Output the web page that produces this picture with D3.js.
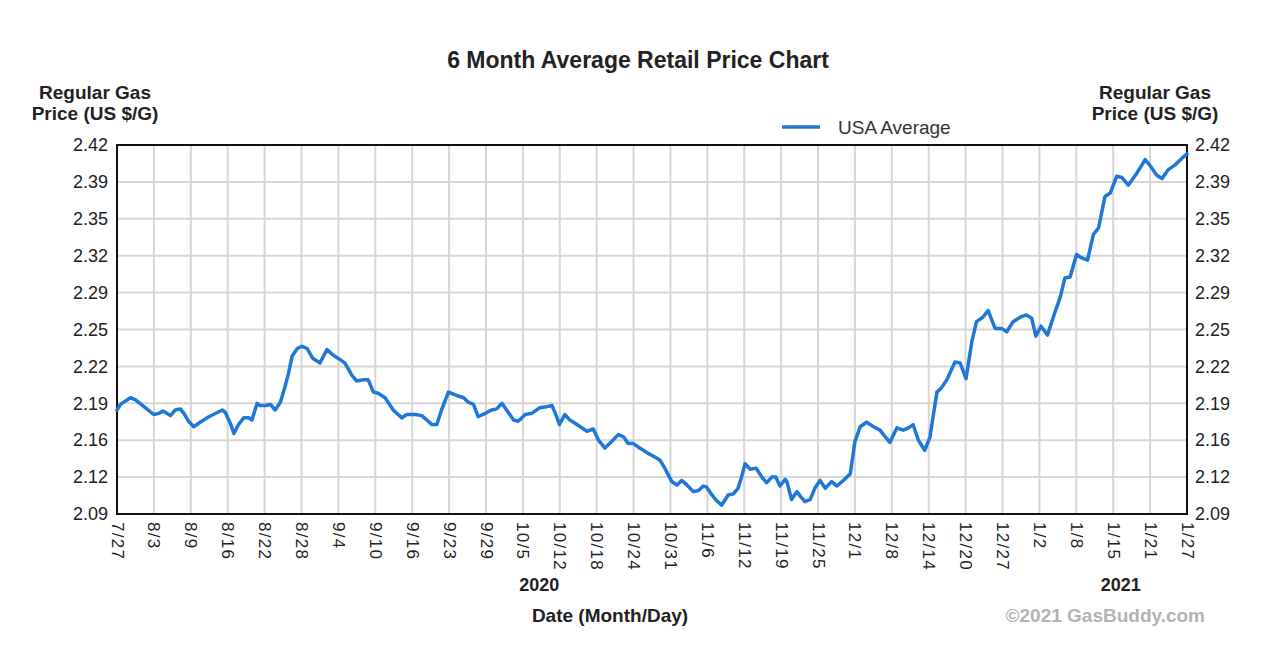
<!DOCTYPE html>
<html>
<head>
<meta charset="utf-8">
<script src="https://cdn.jsdelivr.net/npm/d3@7"></script>
<style>
  html, body { margin: 0; padding: 0; background: #fff; }
  svg { display: block; font-family: "Liberation Sans", Arial, sans-serif; }
</style>
</head>
<body>
<svg id="chart" width="1280" height="653"></svg>
<script>
// ---- data (days since 2020-07-27, USA average regular gas price) ----
const days = [0,0.6,2.3,3.2,4.9,6.3,7.2,7.9,8.3,9.2,10.0,10.9,11.5,12.3,13.2,14.3,15.8,18.1,18.6,19.5,20.1,20.9,21.8,22.7,23.2,24.1,24.6,25.5,26.4,27.2,28.1,28.9,29.5,30.1,31.0,31.8,32.7,33.7,34.9,36.1,37.2,38.4,39.2,40.4,41.2,42.4,43.2,44.1,44.9,46.1,47.5,49.0,49.8,51.3,52.4,53.3,54.1,55.0,55.8,57.0,58.4,59.6,60.4,61.3,62.1,63.3,64.4,65.3,66.2,67.0,68.2,69.0,70.2,71.3,72.7,73.9,74.8,75.3,76.1,77.0,77.9,79.1,80.8,81.9,82.8,83.9,85.1,86.2,87.1,87.9,88.8,89.6,90.5,91.4,92.5,93.4,94.2,95.4,96.3,97.1,98.0,99.1,100.0,100.8,101.4,102.3,103.1,104.0,105.1,106.0,106.8,107.4,108.0,108.9,109.9,110.9,111.7,112.6,113.3,114.0,114.9,115.2,116.0,116.9,117.5,118.3,119.2,120.0,120.9,121.8,122.9,123.8,124.9,126.1,126.9,127.8,128.9,130.1,131.2,131.8,132.9,134.1,135.2,136.1,136.9,137.8,138.9,139.8,141.0,141.8,142.7,144.1,145.0,146.0,147.0,147.8,148.9,149.8,151.0,152.1,153.0,154.1,155.3,156.4,157.3,158.0,158.9,160.0,161.0,162.2,163.0,163.9,165.0,165.9,166.9,167.9,168.8,169.9,170.8,171.9,172.8,173.9,175.4,176.8,177.6,178.8,179.7,180.8,181.9,183.1,184.0];
const prices = [2.183,2.188,2.194,2.192,2.185,2.179,2.180,2.182,2.181,2.178,2.183,2.184,2.180,2.173,2.168,2.172,2.177,2.183,2.181,2.171,2.162,2.170,2.176,2.176,2.174,2.189,2.187,2.187,2.188,2.183,2.190,2.204,2.216,2.231,2.238,2.240,2.238,2.229,2.225,2.237,2.232,2.228,2.225,2.214,2.209,2.210,2.210,2.199,2.198,2.194,2.183,2.176,2.179,2.179,2.178,2.174,2.170,2.170,2.183,2.199,2.196,2.194,2.190,2.188,2.177,2.180,2.183,2.184,2.189,2.183,2.174,2.173,2.179,2.180,2.185,2.186,2.187,2.181,2.170,2.179,2.174,2.170,2.164,2.166,2.156,2.149,2.155,2.161,2.159,2.153,2.153,2.150,2.147,2.144,2.141,2.138,2.131,2.119,2.116,2.120,2.116,2.110,2.111,2.115,2.114,2.107,2.102,2.098,2.107,2.108,2.113,2.123,2.135,2.130,2.131,2.123,2.118,2.123,2.123,2.115,2.121,2.119,2.103,2.110,2.106,2.101,2.103,2.113,2.120,2.113,2.119,2.115,2.120,2.126,2.155,2.168,2.172,2.168,2.165,2.161,2.154,2.167,2.165,2.167,2.170,2.156,2.147,2.159,2.199,2.203,2.210,2.226,2.225,2.211,2.244,2.262,2.266,2.272,2.256,2.256,2.253,2.262,2.266,2.268,2.265,2.249,2.258,2.250,2.266,2.284,2.301,2.302,2.322,2.319,2.317,2.340,2.346,2.374,2.377,2.392,2.391,2.384,2.395,2.407,2.402,2.393,2.390,2.398,2.402,2.408,2.412];

const xTickLabels = ["7/27","8/3","8/9","8/16","8/22","8/28","9/4","9/10","9/16","9/23","9/29","10/5","10/12","10/18","10/24","10/31","11/6","11/12","11/19","11/25","12/1","12/8","12/14","12/20","12/27","1/2","1/8","1/15","1/21","1/27"];
const yTickLabels = ["2.09","2.12","2.16","2.19","2.22","2.25","2.29","2.32","2.35","2.39","2.42"];
const yearLabels = ["2020","2021"];
const yearDays = [72.6, 172.6];
const totalDays = 184;
const yMin = 2.09, yMax = 2.42;

// ---- layout ----
const L = 117, R = 1187, T = 145, B = 514;
const blue = "#1f78d8";
const svg = d3.select("#chart");

const x = d3.scaleLinear().domain([0, totalDays]).range([L, R]);
const y = d3.scaleLinear().domain([yMin, yMax]).range([B, T]);

const xTickVals = xTickLabels.map((_, i) => i * totalDays / (xTickLabels.length - 1));
const yTickVals = yTickLabels.map((_, i) => yMin + i * (yMax - yMin) / (yTickLabels.length - 1));

// grid
const grid = svg.append("g");
grid.selectAll("line.v").data(xTickVals).join("line")
  .attr("x1", d => x(d)).attr("x2", d => x(d)).attr("y1", T).attr("y2", B)
  .attr("stroke", "#d6d6d6").attr("stroke-width", 2);
grid.selectAll("line.h").data(yTickVals).join("line")
  .attr("x1", L).attr("x2", R).attr("y1", d => y(d)).attr("y2", d => y(d))
  .attr("stroke", "#d6d6d6").attr("stroke-width", 2);

// axes labels via d3 axes
const yLeft = d3.axisLeft(y).tickValues(yTickVals).tickFormat((d, i) => yTickLabels[i]).tickSize(0).tickPadding(9);
const gl = svg.append("g").attr("transform", `translate(${L},0)`).call(yLeft);
gl.select(".domain").remove();
gl.selectAll("text").attr("font-size", 18).attr("fill", "#222").attr("font-family", "Liberation Sans, Arial, sans-serif");

const yRight = d3.axisRight(y).tickValues(yTickVals).tickFormat((d, i) => yTickLabels[i]).tickSize(0).tickPadding(8);
const gr = svg.append("g").attr("transform", `translate(${R},0)`).call(yRight);
gr.select(".domain").remove();
gr.selectAll("text").attr("font-size", 18).attr("fill", "#222").attr("font-family", "Liberation Sans, Arial, sans-serif");

const xAxis = d3.axisBottom(x).tickValues(xTickVals).tickFormat((d, i) => xTickLabels[i]).tickSize(0).tickPadding(0);
const gx = svg.append("g").attr("transform", `translate(0,${B})`).call(xAxis);
gx.select(".domain").remove();
gx.selectAll("text")
  .attr("font-size", 17).attr("fill", "#222").attr("font-family", "Liberation Sans, Arial, sans-serif")
  .attr("letter-spacing", "1.3px")
  .attr("text-anchor", "start")
  .attr("transform", "translate(0,8) rotate(90)")
  .attr("x", 0).attr("y", 0).attr("dy", "0.35em");

// plot border
svg.append("rect").attr("x", L).attr("y", T).attr("width", R - L).attr("height", B - T)
  .attr("fill", "none").attr("stroke", "#111").attr("stroke-width", 2);

// line
const pts = days.map((d, i) => [d, prices[i]]);
svg.append("path").datum(pts)
  .attr("fill", "none").attr("stroke", blue).attr("stroke-width", 3.5)
  .attr("stroke-linejoin", "round").attr("stroke-linecap", "round")
  .attr("d", d3.line().x(d => x(d[0])).y(d => y(d[1])));

// title
svg.append("text").attr("x", 638).attr("y", 68).attr("text-anchor", "middle")
  .attr("font-size", 23).attr("font-weight", "bold").attr("fill", "#222")
  .text("6 Month Average Retail Price Chart");

// axis titles
[[95, "start"], [1155, "end"]].forEach(([cx]) => {
  svg.append("text").attr("x", cx).attr("y", 99).attr("text-anchor", "middle")
    .attr("font-size", 19).attr("font-weight", "bold").attr("fill", "#222").text("Regular Gas");
  svg.append("text").attr("x", cx).attr("y", 120).attr("text-anchor", "middle")
    .attr("font-size", 19).attr("font-weight", "bold").attr("fill", "#222").text("Price (US $/G)");
});

// legend
svg.append("line").attr("x1", 782).attr("x2", 820).attr("y1", 127).attr("y2", 127)
  .attr("stroke", blue).attr("stroke-width", 3.5);
svg.append("text").attr("x", 838).attr("y", 134).attr("font-size", 19).attr("fill", "#333").text("USA Average");

// years
svg.selectAll("text.year").data(yearLabels).join("text").attr("class", "year")
  .attr("x", (d, i) => x(yearDays[i])).attr("y", 591).attr("text-anchor", "middle")
  .attr("font-size", 18).attr("font-weight", "bold").attr("fill", "#222").text(d => d);

// x axis title
svg.append("text").attr("x", 610).attr("y", 622).attr("text-anchor", "middle")
  .attr("font-size", 19).attr("font-weight", "bold").attr("fill", "#222").text("Date (Month/Day)");

// copyright
svg.append("text").attr("x", 1205).attr("y", 622).attr("text-anchor", "end")
  .attr("font-size", 19).attr("font-weight", "bold").attr("fill", "#b3b3b3").text("©2021 GasBuddy.com");
</script>
</body>
</html>
